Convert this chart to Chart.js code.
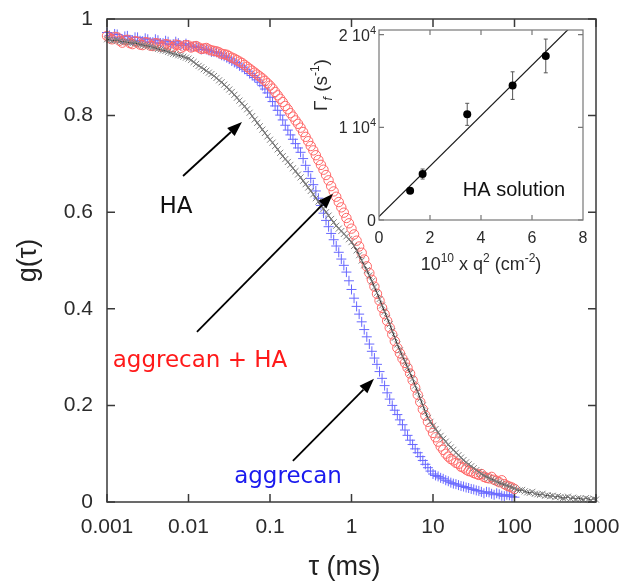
<!DOCTYPE html>
<html>
<head>
<meta charset="utf-8">
<script src="https://cdn.jsdelivr.net/npm/chart.js@4.4.0/dist/chart.umd.min.js"></script>
<style>
html, body { margin:0; padding:0; background:#fff; }
#wrap { position:relative; width:623px; height:587px; background:#fff; }
#main { position:absolute; left:0; top:0; }
#inset { position:absolute; left:300px; top:0; }
</style>
</head>
<body>
<div id="wrap">
<canvas id="main" width="623" height="587"></canvas>
<canvas id="inset" width="300" height="290"></canvas>
</div>
<script>
// correlation functions g(tau), tau in ms (one row per decade)
const tau = [
  1e-3, 1.075e-3, 1.155e-3, 1.241e-3, 1.334e-3, 1.433e-3, 1.54e-3, 1.655e-3, 1.778e-3, 1.911e-3, 2.054e-3, 2.207e-3, 2.371e-3, 2.548e-3, 2.738e-3, 2.943e-3,
  3.162e-3, 3.398e-3, 3.652e-3, 3.924e-3, 4.217e-3, 4.532e-3, 4.87e-3, 5.233e-3, 5.623e-3, 6.043e-3, 6.494e-3, 6.978e-3, 7.499e-3, 8.058e-3, 8.66e-3, 9.306e-3,
  1e-2, 1.075e-2, 1.155e-2, 1.241e-2, 1.334e-2, 1.433e-2, 1.54e-2, 1.655e-2, 1.778e-2, 1.911e-2, 2.054e-2, 2.207e-2, 2.371e-2, 2.548e-2, 2.738e-2, 2.943e-2,
  3.162e-2, 3.398e-2, 3.652e-2, 3.924e-2, 4.217e-2, 4.532e-2, 4.87e-2, 5.233e-2, 5.623e-2, 6.043e-2, 6.494e-2, 6.978e-2, 7.499e-2, 8.058e-2, 8.66e-2, 9.306e-2,
  0.1, 0.1075, 0.1155, 0.1241, 0.1334, 0.1433, 0.154, 0.1655, 0.1778, 0.1911, 0.2054, 0.2207, 0.2371, 0.2548, 0.2738, 0.2943,
  0.3162, 0.3398, 0.3652, 0.3924, 0.4217, 0.4532, 0.487, 0.5233, 0.5623, 0.6043, 0.6494, 0.6978, 0.7499, 0.8058, 0.866, 0.9306,
  1, 1.075, 1.155, 1.241, 1.334, 1.433, 1.54, 1.655, 1.778, 1.911, 2.054, 2.207, 2.371, 2.548, 2.738, 2.943,
  3.162, 3.398, 3.652, 3.924, 4.217, 4.532, 4.87, 5.233, 5.623, 6.043, 6.494, 6.978, 7.499, 8.058, 8.66, 9.306,
  10, 10.75, 11.55, 12.41, 13.34, 14.33, 15.4, 16.55, 17.78, 19.11, 20.54, 22.07, 23.71, 25.48, 27.38, 29.43,
  31.62, 33.98, 36.52, 39.24, 42.17, 45.32, 48.7, 52.33, 56.23, 60.43, 64.94, 69.78, 74.99, 80.58, 86.6, 93.06,
  100, 107.5, 115.5, 124.1, 133.4, 143.3, 154, 165.5, 177.8, 191.1, 205.4, 220.7, 237.1, 254.8, 273.8, 294.3,
  316.2, 339.8, 365.2, 392.4, 421.7, 453.2, 487, 523.3, 562.3, 604.3, 649.4, 697.8, 749.9, 805.8, 866, 930.6,
  1000
]
const gHA = [
  0.958, 0.957, 0.955, 0.956, 0.956, 0.954, 0.953, 0.953, 0.952, 0.951, 0.950, 0.950, 0.949, 0.947, 0.946, 0.945,
  0.944, 0.943, 0.941, 0.940, 0.938, 0.937, 0.935, 0.934, 0.932, 0.930, 0.928, 0.927, 0.925, 0.924, 0.922, 0.920,
  0.918, 0.915, 0.911, 0.907, 0.903, 0.900, 0.896, 0.893, 0.889, 0.886, 0.882, 0.878, 0.873, 0.869, 0.864, 0.859,
  0.854, 0.849, 0.843, 0.837, 0.831, 0.825, 0.819, 0.813, 0.806, 0.799, 0.792, 0.785, 0.778, 0.771, 0.764, 0.757,
  0.750, 0.744, 0.737, 0.730, 0.723, 0.716, 0.710, 0.704, 0.698, 0.691, 0.685, 0.678, 0.672, 0.665, 0.658, 0.651,
  0.644, 0.637, 0.629, 0.622, 0.614, 0.607, 0.600, 0.593, 0.586, 0.579, 0.572, 0.566, 0.561, 0.555, 0.550, 0.544,
  0.538, 0.530, 0.521, 0.511, 0.500, 0.490, 0.480, 0.469, 0.457, 0.445, 0.433, 0.420, 0.407, 0.394, 0.381, 0.368,
  0.354, 0.340, 0.326, 0.314, 0.302, 0.291, 0.279, 0.267, 0.255, 0.241, 0.228, 0.214, 0.200, 0.187, 0.174, 0.166,
  0.158, 0.151, 0.144, 0.137, 0.131, 0.125, 0.119, 0.113, 0.108, 0.102, 0.097, 0.092, 0.087, 0.082, 0.078, 0.074,
  0.070, 0.066, 0.062, 0.058, 0.055, 0.052, 0.050, 0.047, 0.045, 0.042, 0.040, 0.038, 0.036, 0.034, 0.032, 0.030,
  0.028, 0.025, 0.024, 0.025, 0.022, 0.020, 0.019, 0.021, 0.017, 0.016, 0.015, 0.017, 0.013, 0.014, 0.012, 0.013,
  0.010, 0.012, 0.010, 0.008, 0.009, 0.011, 0.007, 0.009, 0.006, 0.008, 0.007, 0.005, 0.008, 0.006, 0.004, 0.007,
  0.005
]
const gAggHA = [
  0.965, 0.960, 0.958, 0.963, 0.962, 0.955, 0.951, 0.956, 0.957, 0.950, 0.948, 0.954, 0.953, 0.947, 0.946, 0.952,
  0.951, 0.945, 0.944, 0.950, 0.949, 0.943, 0.943, 0.948, 0.947, 0.941, 0.942, 0.947, 0.946, 0.940, 0.943, 0.946,
  0.945, 0.941, 0.943, 0.944, 0.941, 0.938, 0.939, 0.940, 0.937, 0.935, 0.934, 0.933, 0.931, 0.928, 0.927, 0.926,
  0.923, 0.920, 0.918, 0.915, 0.912, 0.909, 0.905, 0.901, 0.897, 0.893, 0.889, 0.885, 0.881, 0.877, 0.872, 0.867,
  0.862, 0.856, 0.849, 0.842, 0.835, 0.828, 0.820, 0.813, 0.805, 0.798, 0.790, 0.783, 0.775, 0.766, 0.756, 0.747,
  0.737, 0.728, 0.718, 0.708, 0.698, 0.688, 0.677, 0.666, 0.654, 0.643, 0.632, 0.621, 0.610, 0.599, 0.588, 0.577,
  0.566, 0.554, 0.541, 0.529, 0.516, 0.502, 0.488, 0.474, 0.460, 0.446, 0.431, 0.417, 0.402, 0.389, 0.375, 0.361,
  0.347, 0.333, 0.319, 0.308, 0.297, 0.288, 0.278, 0.266, 0.252, 0.237, 0.222, 0.207, 0.192, 0.179, 0.166, 0.154,
  0.143, 0.134, 0.125, 0.115, 0.108, 0.100, 0.094, 0.089, 0.086, 0.081, 0.079, 0.073, 0.071, 0.067, 0.064, 0.063,
  0.060, 0.058, 0.056, 0.058, 0.052, 0.050, 0.049, 0.052, 0.046, 0.044, 0.041, 0.045, 0.037, 0.034, 0.032, 0.030,
  0.027
]
const gAgg = [
  0.972, 0.966, 0.962, 0.969, 0.968, 0.961, 0.958, 0.964, 0.965, 0.957, 0.956, 0.962, 0.962, 0.955, 0.954, 0.960,
  0.958, 0.952, 0.952, 0.958, 0.956, 0.950, 0.950, 0.955, 0.953, 0.947, 0.948, 0.953, 0.950, 0.945, 0.946, 0.949,
  0.946, 0.942, 0.943, 0.944, 0.941, 0.937, 0.938, 0.937, 0.935, 0.932, 0.932, 0.931, 0.928, 0.925, 0.923, 0.920,
  0.917, 0.913, 0.910, 0.907, 0.903, 0.900, 0.896, 0.892, 0.887, 0.883, 0.879, 0.874, 0.869, 0.862, 0.855, 0.847,
  0.838, 0.829, 0.820, 0.811, 0.801, 0.791, 0.780, 0.770, 0.760, 0.751, 0.742, 0.733, 0.724, 0.711, 0.697, 0.684,
  0.670, 0.657, 0.644, 0.629, 0.614, 0.598, 0.583, 0.570, 0.556, 0.543, 0.530, 0.517, 0.503, 0.490, 0.476, 0.458,
  0.440, 0.422, 0.405, 0.389, 0.373, 0.357, 0.342, 0.327, 0.312, 0.298, 0.285, 0.270, 0.256, 0.241, 0.226, 0.213,
  0.200, 0.190, 0.181, 0.170, 0.160, 0.149, 0.138, 0.128, 0.119, 0.110, 0.102, 0.094, 0.086, 0.078, 0.071, 0.064,
  0.058, 0.055, 0.053, 0.050, 0.048, 0.045, 0.043, 0.040, 0.038, 0.037, 0.035, 0.033, 0.032, 0.030, 0.029, 0.027,
  0.026, 0.024, 0.023, 0.021, 0.018, 0.021, 0.020, 0.017, 0.015, 0.018, 0.016, 0.013, 0.012, 0.015, 0.014, 0.011,
  0.010
]
const xTicks = [0.001, 0.01, 0.1, 1, 10, 100, 1000]
const xTickLabels = ['0.001', '0.01', '0.1', '1', '10', '100', '1000']
const yTicks = [0, 0.2, 0.4, 0.6, 0.8, 1]
const yTickLabels = ['0', '0.2', '0.4', '0.6', '0.8', '1']

// inset: relaxation rate vs q^2
const q2 = [1.22, 1.71, 3.46, 5.24, 6.54]
const gammaF = [3160, 4960, 11400, 14500, 17700]
const gammaErr = [300, 540, 1190, 1490, 1820]
const fitQ2 = [0, 8]
const fitGamma = [360, 22140]
const insetXTicks = [0, 2, 4, 6, 8]
const insetYTicks = [0, 10000, 20000]
const insetYTickLabels = [['0', ''], ['1 10', '4'], ['2 10', '4']]

// arrows and labels in data coordinates
const notes = [
  {text: 'HA', color: '#111', at: [0.00703, 0.598], from: [0.00857, 0.675], to: [0.0453, 0.787]},
  {text: 'aggrecan + HA', color: '#ff1a1a', at: [0.01384, 0.2795], from: [0.0127, 0.352], to: [0.593, 0.638]},
  {text: 'aggrecan', color: '#1a1aee', at: [0.1663, 0.0393], from: [0.191, 0.085], to: [1.888, 0.255]}
]

const pts = ys => ys.map((y, i) => ({x: tau[i], y}))

function richText(ctx, parts, x, y, align) {
  let w = 0
  parts.forEach(p => { ctx.font = p.font; w += ctx.measureText(p.t).width })
  let cx = align === 'center' ? x - w / 2 : align === 'right' ? x - w : x
  ctx.textAlign = 'left'
  ctx.textBaseline = 'alphabetic'
  parts.forEach(p => {
    ctx.font = p.font
    ctx.fillText(p.t, cx, y + (p.dy || 0))
    cx += ctx.measureText(p.t).width
  })
}

function drawArrow(ctx, x1, y1, x2, y2) {
  const ang = Math.atan2(y2 - y1, x2 - x1)
  const len = 15, hw = 5.5
  const bx = x2 - len * Math.cos(ang), by = y2 - len * Math.sin(ang)
  ctx.beginPath()
  ctx.moveTo(x1, y1)
  ctx.lineTo(bx, by)
  ctx.stroke()
  ctx.beginPath()
  ctx.moveTo(x2, y2)
  ctx.lineTo(bx + hw * Math.sin(ang), by - hw * Math.cos(ang))
  ctx.lineTo(bx - hw * Math.sin(ang), by + hw * Math.cos(ang))
  ctx.closePath()
  ctx.fill()
}

// drop the extra room chart.js keeps for edge labels
const noEdgePad = s => { s.paddingLeft = 0; s.paddingRight = 0; s.paddingTop = 0; s.paddingBottom = 0 }

const mainDecor = {
  id: 'mainDecor',
  afterDraw(chart) {
    const {ctx, chartArea: a, scales: {x, y}} = chart
    ctx.save()
    // frame and inward ticks
    ctx.strokeStyle = '#3a3a3a'
    ctx.lineWidth = 1.5
    ctx.strokeRect(a.left, a.top, a.right - a.left, a.bottom - a.top)
    ctx.beginPath()
    xTicks.forEach(v => {
      const px = x.getPixelForValue(v)
      ctx.moveTo(px, a.bottom); ctx.lineTo(px, a.bottom - 8)
      ctx.moveTo(px, a.top); ctx.lineTo(px, a.top + 8)
    })
    yTicks.forEach(v => {
      const py = y.getPixelForValue(v)
      ctx.moveTo(a.left, py); ctx.lineTo(a.left + 8, py)
      ctx.moveTo(a.right, py); ctx.lineTo(a.right - 8, py)
    })
    ctx.stroke()

    // arrows and labels
    ctx.strokeStyle = '#000'
    ctx.fillStyle = '#000'
    ctx.lineWidth = 1.8
    notes.forEach(n => {
      drawArrow(ctx, x.getPixelForValue(n.from[0]), y.getPixelForValue(n.from[1]),
        x.getPixelForValue(n.to[0]), y.getPixelForValue(n.to[1]))
    })
    ctx.font = '23px "DejaVu Sans"'
    ctx.textAlign = 'center'
    ctx.textBaseline = 'alphabetic'
    notes.forEach(n => {
      ctx.fillStyle = n.color
      ctx.fillText(n.text, x.getPixelForValue(n.at[0]), y.getPixelForValue(n.at[1]))
    })

    // axis titles
    ctx.fillStyle = '#222'
    richText(ctx, [{t: 'τ (ms)', font: '27px "Liberation Sans"'}], (a.left + a.right) / 2 - 7, 575, 'center')
    ctx.translate(27, (a.top + a.bottom) / 2)
    ctx.rotate(-Math.PI / 2)
    richText(ctx, [{t: 'g(τ)', font: '27px "Liberation Sans"'}], 0, 9, 'center')
    ctx.restore()
  }
}

new Chart(document.getElementById('main'), {
  type: 'scatter',
  data: {
    datasets: [
      {label: 'HA', data: pts(gHA), showLine: true, borderColor: '#2a2a2a', borderWidth: 1.1,
        pointStyle: 'crossRot', pointRadius: 4.3, pointBorderColor: '#808080', pointBorderWidth: 1,
        pointBackgroundColor: 'transparent', clip: false},
      {label: 'aggrecan + HA', data: pts(gAggHA), pointStyle: 'circle', pointRadius: 4.7,
        pointBorderColor: '#ff6666', pointBackgroundColor: 'transparent', pointBorderWidth: 1, clip: false},
      {label: 'aggrecan', data: pts(gAgg), pointStyle: 'cross', pointRadius: 5,
        pointBorderColor: '#6868ff', pointBorderWidth: 1, clip: false}
    ]
  },
  options: {
    responsive: false,
    animation: false,
    events: [],
    layout: {padding: {top: 19, right: 27, left: 0, bottom: 0}},
    plugins: {legend: {display: false}, tooltip: {enabled: false}},
    scales: {
      x: {
        type: 'logarithmic', min: 0.001, max: 1000,
        afterBuildTicks: s => { s.ticks = xTicks.map(v => ({value: v})) },
        afterFit: s => { s.height = 85; noEdgePad(s) },
        grid: {display: false, drawTicks: false},
        border: {display: false},
        ticks: {font: {family: 'Liberation Sans', size: 21}, color: '#2b2b2b', padding: 13,
          maxRotation: 0, autoSkip: false, callback: (v, i) => xTickLabels[i]}
      },
      y: {
        min: 0, max: 1,
        afterBuildTicks: s => { s.ticks = yTicks.map(v => ({value: v})) },
        afterFit: s => { s.width = 107; noEdgePad(s) },
        grid: {display: false, drawTicks: false},
        border: {display: false},
        ticks: {font: {family: 'Liberation Sans', size: 21}, color: '#2b2b2b', padding: 14,
          callback: (v, i) => yTickLabels[i]}
      }
    }
  },
  plugins: [mainDecor]
})

const insetDecor = {
  id: 'insetDecor',
  beforeDatasetsDraw(chart) {
    const {ctx, scales: {x, y}} = chart
    ctx.save()
    ctx.strokeStyle = '#555'
    ctx.lineWidth = 1
    ctx.beginPath()
    q2.forEach((q, i) => {
      const px = x.getPixelForValue(q)
      const lo = y.getPixelForValue(gammaF[i] - gammaErr[i])
      const hi = y.getPixelForValue(gammaF[i] + gammaErr[i])
      ctx.moveTo(px, lo); ctx.lineTo(px, hi)
      ctx.moveTo(px - 2, lo); ctx.lineTo(px + 2, lo)
      ctx.moveTo(px - 2, hi); ctx.lineTo(px + 2, hi)
    })
    ctx.stroke()
    ctx.restore()
  },
  afterDraw(chart) {
    const {ctx, chartArea: a, scales: {x, y}} = chart
    ctx.save()
    ctx.strokeStyle = '#777'
    ctx.lineWidth = 1.2
    ctx.strokeRect(a.left, a.top, a.right - a.left, a.bottom - a.top)
    ctx.beginPath()
    insetXTicks.slice(1, -1).forEach(v => {
      const px = x.getPixelForValue(v)
      ctx.moveTo(px, a.bottom); ctx.lineTo(px, a.bottom - 5)
      ctx.moveTo(px, a.top); ctx.lineTo(px, a.top + 5)
    })
    insetYTicks.forEach(v => {
      const py = y.getPixelForValue(v)
      ctx.moveTo(a.left, py); ctx.lineTo(a.left + 5, py)
      ctx.moveTo(a.right, py); ctx.lineTo(a.right - 5, py)
    })
    ctx.stroke()

    ctx.fillStyle = '#2b2b2b'
    insetYTicks.forEach((v, i) => {
      const [main, sup] = insetYTickLabels[i]
      richText(ctx, [
        {t: main, font: '16px "Liberation Sans"'},
        {t: sup, font: '11px "Liberation Sans"', dy: -7}
      ], a.left - 3, y.getPixelForValue(v) + 6, 'right')
    })

    richText(ctx, [
      {t: '10', font: '18px "Liberation Sans"'},
      {t: '10', font: '12px "Liberation Sans"', dy: -8},
      {t: ' x q', font: '18px "Liberation Sans"'},
      {t: '2', font: '12px "Liberation Sans"', dy: -8},
      {t: ' (cm', font: '18px "Liberation Sans"'},
      {t: '-2', font: '12px "Liberation Sans"', dy: -8},
      {t: ')', font: '18px "Liberation Sans"'}
    ], (a.left + a.right) / 2, 270, 'center')

    ctx.fillStyle = '#111'
    richText(ctx, [{t: 'HA solution', font: '20px "Liberation Sans"'}], 214, 196, 'center')

    ctx.fillStyle = '#2b2b2b'
    ctx.translate(20, 85)
    ctx.rotate(-Math.PI / 2)
    richText(ctx, [
      {t: 'Γ', font: '19px "Liberation Sans"'},
      {t: 'f', font: 'italic 12px "Liberation Sans"', dy: 5},
      {t: ' (s', font: '19px "Liberation Sans"'},
      {t: '-1', font: '12px "Liberation Sans"', dy: -8},
      {t: ')', font: '19px "Liberation Sans"'}
    ], 0, 7, 'center')
    ctx.restore()
  }
}

new Chart(document.getElementById('inset'), {
  type: 'scatter',
  data: {
    datasets: [
      {label: 'HA solution', data: q2.map((q, i) => ({x: q, y: gammaF[i]})), pointRadius: 4,
        pointBackgroundColor: '#000', pointBorderColor: '#000', pointBorderWidth: 0},
      {label: 'fit', data: fitQ2.map((q, i) => ({x: q, y: fitGamma[i]})), showLine: true,
        pointRadius: 0, borderColor: '#1a1a1a', borderWidth: 1.2}
    ]
  },
  options: {
    responsive: false,
    animation: false,
    events: [],
    layout: {padding: {top: 30, right: 17, left: 0, bottom: 0}},
    plugins: {legend: {display: false}, tooltip: {enabled: false}},
    scales: {
      x: {
        min: 0, max: 8,
        afterBuildTicks: s => { s.ticks = insetXTicks.map(v => ({value: v})) },
        afterFit: s => { s.height = 70; noEdgePad(s) },
        grid: {display: false, drawTicks: false},
        border: {display: false},
        ticks: {font: {family: 'Liberation Sans', size: 16}, color: '#2b2b2b', padding: 9,
          maxRotation: 0, autoSkip: false}
      },
      y: {
        min: 0, max: 20500,
        afterBuildTicks: s => { s.ticks = insetYTicks.map(v => ({value: v})) },
        afterFit: s => { s.width = 79; noEdgePad(s) },
        grid: {display: false, drawTicks: false},
        border: {display: false},
        ticks: {display: false}
      }
    }
  },
  plugins: [insetDecor]
})
</script>
</body>
</html>
